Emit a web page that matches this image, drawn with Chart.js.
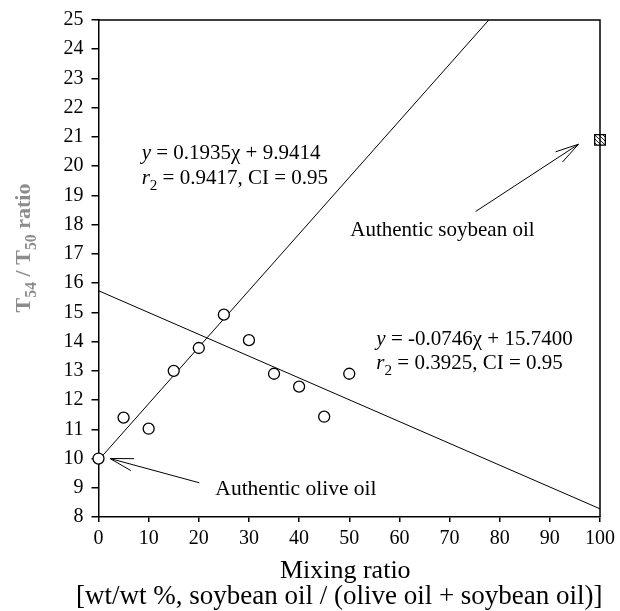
<!DOCTYPE html>
<html>
<head>
<meta charset="utf-8">
<script src="https://cdn.jsdelivr.net/npm/chart.js@4.4.1/dist/chart.umd.min.js"></script>
<style>
  html, body { margin: 0; padding: 0; background: #fff; }
  #wrap { width: 620px; height: 611px; }
</style>
</head>
<body>
<div id="wrap"><canvas id="c" width="620" height="611"></canvas></div>
<script>
// --- data ---
const mixRatio = [0, 5, 10, 15, 20, 25, 30, 35, 40, 45, 50];
const tRatio   = [10.0, 11.4, 11.02, 13.0, 13.78, 14.92, 14.05, 12.9, 12.46, 11.43, 12.9];
const soyX = [100];
const soyY = [20.9];
// regression lines printed on the figure: y = a*x + b
const fitSlope     = [0.1935, -0.0746];
const fitIntercept = [9.9414, 15.7400];
const xTicks = [0, 10, 20, 30, 40, 50, 60, 70, 80, 90, 100];
const yTicks = [8, 9, 10, 11, 12, 13, 14, 15, 16, 17, 18, 19, 20, 21, 22, 23, 24, 25];

const SERIF = '"Liberation Serif", "DejaVu Serif", serif';

// line 1 runs until it leaves the top of the frame, line 2 across the whole range
const yMax = 25;
const x1End = (yMax - fitIntercept[0]) / fitSlope[0];
const fitLine1 = [
  { x: 0, y: fitIntercept[0] },
  { x: x1End, y: yMax }
];
const fitLine2 = [
  { x: 0, y: fitIntercept[1] },
  { x: 100, y: fitSlope[1] * 100 + fitIntercept[1] }
];

// hatched fill for the soybean marker
function hatch() {
  const p = document.createElement('canvas');
  p.width = 4; p.height = 4;
  const g = p.getContext('2d');
  g.fillStyle = '#fff';
  g.fillRect(0, 0, 4, 4);
  g.strokeStyle = '#222';
  g.lineWidth = 1;
  g.beginPath();
  g.moveTo(-1, -1); g.lineTo(5, 5);
  g.moveTo(-1, 3); g.lineTo(1, 5);
  g.moveTo(3, -1); g.lineTo(5, 1);
  g.stroke();
  return g.createPattern(p, 'repeat');
}

// draws a line of text made of pieces (italic, subscript)
function richText(ctx, parts, x, y, size, weight) {
  let cx = x;
  parts.forEach(p => {
    const s = p.sub ? size * 0.72 : size;
    ctx.font = (p.it ? 'italic ' : '') + (weight || '') + ' ' + s + 'px ' + SERIF;
    ctx.fillText(p.t, cx, y + (p.sub ? size * 0.28 : 0));
    cx += ctx.measureText(p.t).width;
  });
  return cx - x;
}
function richWidth(ctx, parts, size, weight) {
  let w = 0;
  parts.forEach(p => {
    const s = p.sub ? size * 0.72 : size;
    ctx.font = (p.it ? 'italic ' : '') + (weight || '') + ' ' + s + 'px ' + SERIF;
    w += ctx.measureText(p.t).width;
  });
  return w;
}

function arrow(ctx, x0, y0, x1, y1) {
  const a = Math.atan2(y1 - y0, x1 - x0);
  const len = 24, spread = 0.26;
  ctx.beginPath();
  ctx.moveTo(x0, y0); ctx.lineTo(x1, y1);
  ctx.moveTo(x1 - len * Math.cos(a - spread), y1 - len * Math.sin(a - spread));
  ctx.lineTo(x1, y1);
  ctx.lineTo(x1 - len * Math.cos(a + spread), y1 - len * Math.sin(a + spread));
  ctx.stroke();
}

const extras = {
  id: 'extras',
  afterDatasetsDraw(chart) {
    const ctx = chart.ctx;
    const a = chart.chartArea;
    const xs = chart.scales.x, ys = chart.scales.y;
    const px = v => xs.getPixelForValue(v);
    const py = v => ys.getPixelForValue(v);
    ctx.save();
    // top and right frame
    ctx.strokeStyle = '#000';
    ctx.lineWidth = 1.5;
    ctx.beginPath();
    ctx.moveTo(a.left, a.top); ctx.lineTo(a.right, a.top); ctx.lineTo(a.right, a.bottom);
    ctx.stroke();

    ctx.fillStyle = '#000';
    ctx.textBaseline = 'alphabetic';
    ctx.textAlign = 'left';
    // equation 1
    richText(ctx, [{ t: 'y', it: true }, { t: ' = 0.1935χ + 9.9414' }], px(8.6), py(20.25), 21);
    richText(ctx, [{ t: 'r', it: true }, { t: '2', sub: true }, { t: ' = 0.9417, CI = 0.95' }], px(8.6), py(19.4), 21);
    // equation 2
    richText(ctx, [{ t: 'y', it: true }, { t: ' = -0.0746χ + 15.7400' }], px(55.4), py(13.9), 21);
    richText(ctx, [{ t: 'r', it: true }, { t: '2', sub: true }, { t: ' = 0.3925, CI = 0.95' }], px(55.4), py(13.06), 21);
    // labels
    ctx.font = '21px ' + SERIF;
    ctx.fillText('Authentic soybean oil', px(50.2), py(17.6));
    ctx.font = '21.5px ' + SERIF;
    ctx.fillText('Authentic olive oil', px(23.3), py(8.75));
    ctx.lineWidth = 1;
    arrow(ctx, px(75.2), py(18.45), px(95.7), py(20.75));
    arrow(ctx, px(20.1), py(9.17), px(2.3), py(10.0));

    // x title
    ctx.textAlign = 'center';
    const cx = (a.left + a.right) / 2 - 4;
    ctx.font = '26px ' + SERIF;
    ctx.fillText('Mixing ratio', cx, 578);
    ctx.font = '27px ' + SERIF;
    ctx.fillText('[wt/wt %, soybean oil / (olive oil + soybean oil)]', cx - 6, 604);

    // y title (grey, rotated, with subscripts)
    const yParts = [{ t: 'T' }, { t: '54', sub: true }, { t: ' / T' }, { t: '50', sub: true }, { t: ' ratio' }];
    ctx.translate(30, 248);
    ctx.rotate(-Math.PI / 2);
    ctx.textAlign = 'left';
    ctx.fillStyle = '#8c8c8c';
    ctx.filter = 'blur(0.5px)';
    const w = richWidth(ctx, yParts, 22, 'bold');
    richText(ctx, yParts, -w / 2, 0, 22, 'bold');
    ctx.restore();
  }
};

new Chart(document.getElementById('c'), {
  type: 'scatter',
  data: {
    datasets: [
      {
        label: 'Mixtures',
        data: mixRatio.map((x, i) => ({ x: x, y: tRatio[i] })),
        pointStyle: 'circle',
        pointRadius: 5.5,
        pointBorderWidth: 1.3,
        pointBorderColor: '#000',
        pointBackgroundColor: '#fff',
        clip: false
      },
      {
        label: 'Authentic soybean oil',
        data: soyX.map((x, i) => ({ x: x, y: soyY[i] })),
        pointStyle: 'rect',
        pointRadius: 7.5,
        pointBorderWidth: 1.3,
        pointBorderColor: '#000',
        pointBackgroundColor: hatch(),
        clip: false
      },
      {
        label: 'Fit 1',
        data: fitLine1,
        showLine: true,
        pointRadius: 0,
        borderColor: '#000',
        borderWidth: 1,
        clip: false
      },
      {
        label: 'Fit 2',
        data: fitLine2,
        showLine: true,
        pointRadius: 0,
        borderColor: '#000',
        borderWidth: 1
      }
    ]
  },
  plugins: [extras],
  options: {
    responsive: false,
    animation: false,
    events: [],
    layout: { padding: { top: 18, right: 17, left: 0, bottom: 0 } },
    plugins: {
      legend: { display: false },
      tooltip: { enabled: false }
    },
    scales: {
      x: {
        type: 'linear',
        min: 0,
        max: 100,
        afterBuildTicks: s => { s.ticks = xTicks.map(v => ({ value: v })); },
        afterFit: s => { s.height = 94; },
        grid: { drawOnChartArea: false, drawTicks: true, tickLength: 5, color: '#000', lineWidth: 1.5 },
        border: { display: true, color: '#000', width: 1.5 },
        ticks: { color: '#000', padding: 5, maxRotation: 0, font: { family: SERIF, size: 20 } }
      },
      y: {
        type: 'linear',
        min: 8,
        max: 25,
        afterBuildTicks: s => { s.ticks = yTicks.map(v => ({ value: v })); },
        afterFit: s => { s.width = 98.5; },
        grid: { drawOnChartArea: false, drawTicks: true, tickLength: 7, color: '#000', lineWidth: 1.5 },
        border: { display: true, color: '#000', width: 1.5 },
        ticks: { color: '#000', padding: 8, font: { family: SERIF, size: 20 } }
      }
    }
  }
});
</script>
</body>
</html>
